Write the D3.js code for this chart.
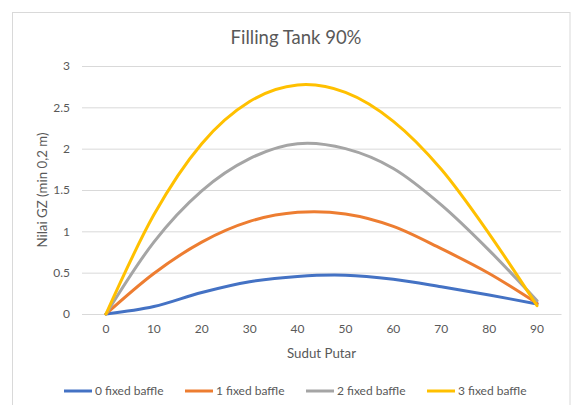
<!DOCTYPE html>
<html>
<head>
<meta charset="utf-8">
<script src="https://cdn.jsdelivr.net/npm/d3@7"></script>
<style>
  html, body { margin: 0; padding: 0; background: #fff; }
  svg { display: block; font-family: Lato, "Open Sans", sans-serif; }
</style>
</head>
<body>
<svg id="chart" width="575" height="405"></svg>
<script>
const categories = [0, 10, 20, 30, 40, 50, 60, 70, 80, 90];
const baffle0 = [0, 0.09, 0.26, 0.39, 0.455, 0.47, 0.42, 0.33, 0.23, 0.12];
const baffle1 = [0, 0.49, 0.87, 1.12, 1.23, 1.21, 1.06, 0.79, 0.49, 0.13];
const baffle2 = [0, 0.87, 1.49, 1.88, 2.06, 2.00, 1.76, 1.32, 0.77, 0.16];
const baffle3 = [0, 1.20, 2.06, 2.57, 2.77, 2.68, 2.33, 1.75, 0.97, 0.10];
const seriesNames = ["0 fixed baffle", "1 fixed baffle", "2 fixed baffle", "3 fixed baffle"];
const seriesColors = ["#4472C4", "#ED7D31", "#A5A5A5", "#FFC000"];
const yTicks = [0, 0.5, 1, 1.5, 2, 2.5, 3];
const title = "Filling Tank 90%";
const xTitle = "Sudut Putar";
const yTitle = "Nilai GZ (min 0,2 m)";

const allSeries = [baffle0, baffle1, baffle2, baffle3];
const svg = d3.select("#chart");
const textColor = "#595959";

// chart border
svg.append("rect").attr("x", 12.5).attr("y", 12.5).attr("width", 557.5).attr("height", 400)
  .attr("fill", "#fff").attr("stroke", "#D9D9D9").attr("stroke-width", 1);

const plot = { left: 82, right: 561, top: 66, bottom: 314 };

const x = d3.scaleBand().domain(categories).range([plot.left, plot.right]);
const xc = d => x(d) + x.bandwidth() / 2;
const y = d3.scaleLinear().domain([0, 3]).range([plot.bottom, plot.top]);

// gridlines + y axis
const yAxis = d3.axisLeft(y).tickValues(yTicks).tickSize(-(plot.right - plot.left)).tickPadding(12)
  .tickFormat(d3.format("~g"));
const gy = svg.append("g").attr("transform", `translate(${plot.left},0)`).call(yAxis);
gy.select(".domain").remove();
gy.selectAll(".tick line").attr("stroke", "#D9D9D9").attr("stroke-width", 1);
gy.selectAll(".tick text").attr("fill", textColor).attr("font-size", "12px")
  .attr("font-family", "Lato, 'Open Sans', sans-serif");

const xAxis = d3.axisBottom(x).tickSize(0).tickPadding(10);
const gx = svg.append("g").attr("transform", `translate(0,${plot.bottom})`).call(xAxis);
gx.select(".domain").attr("stroke", "#D9D9D9");
gx.selectAll(".tick text").attr("fill", textColor).attr("font-size", "12px")
  .attr("font-family", "Lato, 'Open Sans', sans-serif");

// lines
const line = d3.line()
  .x((d, i) => xc(categories[i]))
  .y(d => y(d))
  .curve(d3.curveCardinal.tension(0));

allSeries.forEach((s, i) => {
  svg.append("path").datum(s).attr("d", line)
    .attr("fill", "none").attr("stroke", seriesColors[i]).attr("stroke-width", 3)
    .attr("stroke-linecap", "round").attr("stroke-linejoin", "round");
});

// title
svg.append("text").attr("x", 296).attr("y", 44).attr("text-anchor", "middle")
  .attr("fill", textColor).attr("font-size", "18.5px").text(title);

// axis titles
svg.append("text").attr("x", (plot.left + plot.right) / 2).attr("y", 358).attr("text-anchor", "middle")
  .attr("fill", textColor).attr("font-size", "13.3px").text(xTitle);
svg.append("text").attr("transform", `translate(47,${(plot.top + plot.bottom) / 2}) rotate(-90)`)
  .attr("text-anchor", "middle").attr("fill", textColor).attr("font-size", "13.3px").text(yTitle);

// legend
const legend = svg.append("g");
seriesNames.forEach((name, i) => {
  const lx = 64 + i * 121;
  legend.append("line").attr("x1", lx).attr("x2", lx + 28).attr("y1", 391).attr("y2", 391)
    .attr("stroke", seriesColors[i]).attr("stroke-width", 3);
  legend.append("text").attr("x", lx + 31).attr("y", 395).attr("fill", textColor)
    .attr("font-size", "12px").text(name);
});
</script>
</body>
</html>
